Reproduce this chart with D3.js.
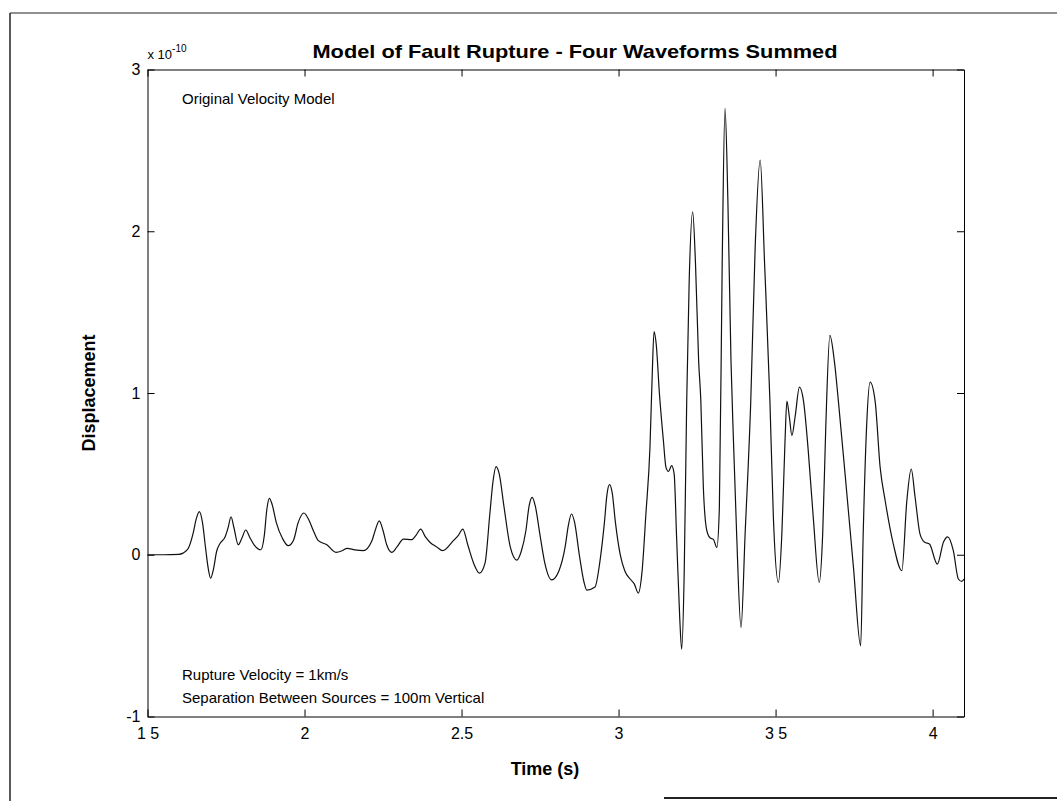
<!DOCTYPE html>
<html lang="en">
  <head>
    <meta charset="UTF-8">
    <title>Model of Fault Rupture</title>
    <script src="https://d3js.org/d3.v7.min.js"></script>
    <style>
      body { margin: 0; background-color: white; }
      svg { display: block; font-family: "Liberation Sans", Arial, sans-serif; }
    </style>
  </head>
  <body>
    <script>

      // time (s) and displacement (units of 1e-10)
      const timeS = [
        1.5, 1.55, 1.6, 1.613, 1.63, 1.645, 1.655, 1.665, 1.675, 1.685, 1.693, 1.701, 1.71, 1.72, 1.731,
        1.747, 1.757, 1.766, 1.775, 1.789, 1.80, 1.813, 1.825, 1.84, 1.861, 1.872, 1.88, 1.888, 1.897,
        1.91, 1.93, 1.948, 1.965, 1.98, 1.998, 2.015, 2.03, 2.044, 2.071, 2.10, 2.12, 2.136, 2.16, 2.187,
        2.214, 2.225, 2.238, 2.25, 2.262, 2.278, 2.295, 2.315, 2.341, 2.355, 2.37, 2.385, 2.40, 2.42,
        2.44, 2.474, 2.49, 2.504, 2.52, 2.54, 2.557, 2.575, 2.59, 2.60, 2.61, 2.62, 2.635, 2.655, 2.676,
        2.69, 2.705, 2.715, 2.725, 2.735, 2.75, 2.765, 2.787, 2.81, 2.83, 2.84, 2.85, 2.86, 2.875, 2.89,
        2.899, 2.925, 2.94, 2.955, 2.963, 2.971, 2.98, 2.99, 3.005, 3.02, 3.037, 3.05, 3.063, 3.075,
        3.087, 3.10, 3.107, 3.113, 3.12, 3.13, 3.143, 3.151, 3.159, 3.169, 3.177, 3.185, 3.195, 3.201,
        3.209, 3.217, 3.225, 3.236, 3.245, 3.255, 3.262, 3.27, 3.281, 3.291, 3.302, 3.313, 3.321, 3.33,
        3.339, 3.348, 3.358, 3.366, 3.376, 3.39, 3.403, 3.421, 3.435, 3.451, 3.465, 3.482, 3.493, 3.509,
        3.52, 3.53, 3.536, 3.544, 3.552, 3.562, 3.576, 3.589, 3.604, 3.62, 3.639, 3.65, 3.66, 3.673,
        3.687, 3.70, 3.727, 3.748, 3.771, 3.779, 3.79, 3.801, 3.817, 3.833, 3.849, 3.875, 3.902, 3.918,
        3.932, 3.944, 3.96, 3.975, 3.99, 4.015, 4.035, 4.048, 4.066, 4.082, 4.093, 4.10
      ];
      const dispE10 = [
        0, 0, 0.002, 0.01, 0.04, 0.13, 0.22, 0.266, 0.2, 0.04, -0.08, -0.145, -0.09, 0.02, 0.07,
        0.11, 0.17, 0.235, 0.17, 0.062, 0.10, 0.153, 0.11, 0.06, 0.031, 0.12, 0.28, 0.349, 0.31,
        0.2, 0.1, 0.056, 0.09, 0.2, 0.258, 0.21, 0.14, 0.087, 0.062, 0.015, 0.025, 0.04, 0.03, 0.025,
        0.083, 0.15, 0.21, 0.15, 0.06, 0.015, 0.05, 0.097, 0.093, 0.12, 0.159, 0.11, 0.076, 0.05,
        0.025, 0.087, 0.12, 0.159, 0.06, -0.06, -0.114, -0.05, 0.25, 0.45, 0.545, 0.5, 0.3, 0.05, -0.033,
        0.02, 0.15, 0.3, 0.355, 0.3, 0.12, -0.05, -0.155, -0.1, 0.05, 0.18, 0.252, 0.2, 0.0, -0.17,
        -0.219, -0.2, -0.05, 0.2, 0.37, 0.433, 0.38, 0.2, 0.004, -0.1, -0.15, -0.18, -0.237, -0.1,
        0.25, 0.664, 1.1, 1.38, 1.3, 1.0, 0.7, 0.54, 0.515, 0.551, 0.5, 0.1, -0.4, -0.584,
        -0.118, 0.95, 1.7, 2.12, 1.8, 1.2, 0.95, 0.417, 0.149, 0.105, 0.095, 0.045, 0.29, 1.8,
        2.76, 2.2, 1.2, 0.7, 0.128, -0.45, 0.128, 0.95, 1.9, 2.44, 1.8, 0.95, 0.231, -0.171,
        0.128, 0.7, 0.95, 0.85, 0.737, 0.85, 1.036, 0.95, 0.644, 0.231, -0.171, 0.128, 0.8, 1.356,
        1.2, 0.95, 0.376, -0.078, -0.563, 0.128, 0.8, 1.067, 0.95, 0.54, 0.334, 0.066, -0.099, 0.334,
        0.53, 0.36, 0.128, 0.077, 0.066, -0.058, 0.08, 0.111, 0.025, -0.15, -0.165, -0.15
      ];

      const xTicks = [1.5, 2, 2.5, 3, 3.5, 4];
      const xTickLabels = ["1 5", "2", "2.5", "3", "3 5", "4"];
      const yTicks = [-1, 0, 1, 2, 3];
      const yTickLabels = ["-1", "0", "1", "2", "3"];

      const w = 1057;
      const h = 801;
      const plotL = 147.5, plotR = 964, plotT = 69.5, plotB = 716.5;

      const svg = d3.select("body")
                    .append("svg")
                    .attr("width", w)
                    .attr("height", h);

      // scanned page frame
      const frame = svg.append("g").attr("stroke", "#222").attr("fill", "none");
      frame.append("line").attr("x1", 10).attr("y1", 13).attr("x2", 10).attr("y2", h).attr("stroke-width", 1.5);
      frame.append("line").attr("x1", 10).attr("y1", 13).attr("x2", w).attr("y2", 13).attr("stroke-width", 1.2);
      frame.append("line").attr("x1", 664).attr("y1", 798).attr("x2", w).attr("y2", 798).attr("stroke-width", 2);

      const xScale = d3.scaleLinear().domain([1.5, 4.1]).range([plotL, plotR]);
      const yScale = d3.scaleLinear().domain([-1, 3]).range([plotB, plotT]);

      const tickFont = "16px";

      // bottom axis with labels
      svg.append("g")
         .attr("transform", `translate(0,${plotB})`)
         .call(d3.axisBottom(xScale).tickValues(xTicks).tickSize(-7).tickSizeOuter(0)
                 .tickPadding(11).tickFormat((d, i) => xTickLabels[i]))
         .call(g => g.selectAll("text").style("font-size", tickFont).attr("fill", "#000"));

      // top axis, ticks only
      svg.append("g")
         .attr("transform", `translate(0,${plotT})`)
         .call(d3.axisTop(xScale).tickValues(xTicks).tickSize(-7).tickSizeOuter(0).tickFormat(""));

      // left axis with labels
      svg.append("g")
         .attr("transform", `translate(${plotL},0)`)
         .call(d3.axisLeft(yScale).tickValues(yTicks).tickSize(-7).tickSizeOuter(0)
                 .tickPadding(7).tickFormat((d, i) => yTickLabels[i]))
         .call(g => g.selectAll("text").style("font-size", tickFont).attr("fill", "#000"));

      // right axis, ticks only
      svg.append("g")
         .attr("transform", `translate(${plotR},0)`)
         .call(d3.axisRight(yScale).tickValues(yTicks).tickSize(-7).tickSizeOuter(0).tickFormat(""));

      svg.selectAll(".domain").attr("stroke", "#000");

      // exponent note
      const expo = svg.append("text")
                      .attr("x", plotL)
                      .attr("y", 59)
                      .style("font-size", "13px");
      expo.append("tspan").text("x 10");
      expo.append("tspan").attr("dy", -7).style("font-size", "10px").text("-10");

      // title and axis labels
      svg.append("text")
         .attr("x", 575)
         .attr("y", 58)
         .attr("text-anchor", "middle")
         .attr("textLength", 525)
         .attr("lengthAdjust", "spacingAndGlyphs")
         .style("font-size", "19px")
         .style("font-weight", "bold")
         .text("Model of Fault Rupture - Four Waveforms Summed");

      svg.append("text")
         .attr("x", 545)
         .attr("y", 775)
         .attr("text-anchor", "middle")
         .style("font-size", "18px")
         .style("font-weight", "bold")
         .text("Time (s)");

      svg.append("text")
         .attr("transform", `translate(95,${(plotT + plotB) / 2}) rotate(-90)`)
         .attr("text-anchor", "middle")
         .style("font-size", "18px")
         .style("font-weight", "bold")
         .text("Displacement");

      // annotations
      svg.append("text").attr("x", 182).attr("y", 104).style("font-size", "15px")
         .text("Original Velocity Model");
      svg.append("text").attr("x", 182).attr("y", 680).style("font-size", "15px")
         .text("Rupture Velocity = 1km/s");
      svg.append("text").attr("x", 182).attr("y", 703).style("font-size", "15px")
         .text("Separation Between Sources = 100m Vertical");

      // waveform
      const pts = timeS.map((t, i) => [t, dispE10[i]]);
      const line = d3.line()
                     .x(d => xScale(d[0]))
                     .y(d => yScale(d[1]))
                     .curve(d3.curveMonotoneX);

      svg.append("path")
         .datum(pts)
         .attr("d", line)
         .attr("fill", "none")
         .attr("stroke", "#111")
         .attr("stroke-width", 1.2)
         .attr("stroke-linejoin", "round");
    </script>
  </body>
</html>
